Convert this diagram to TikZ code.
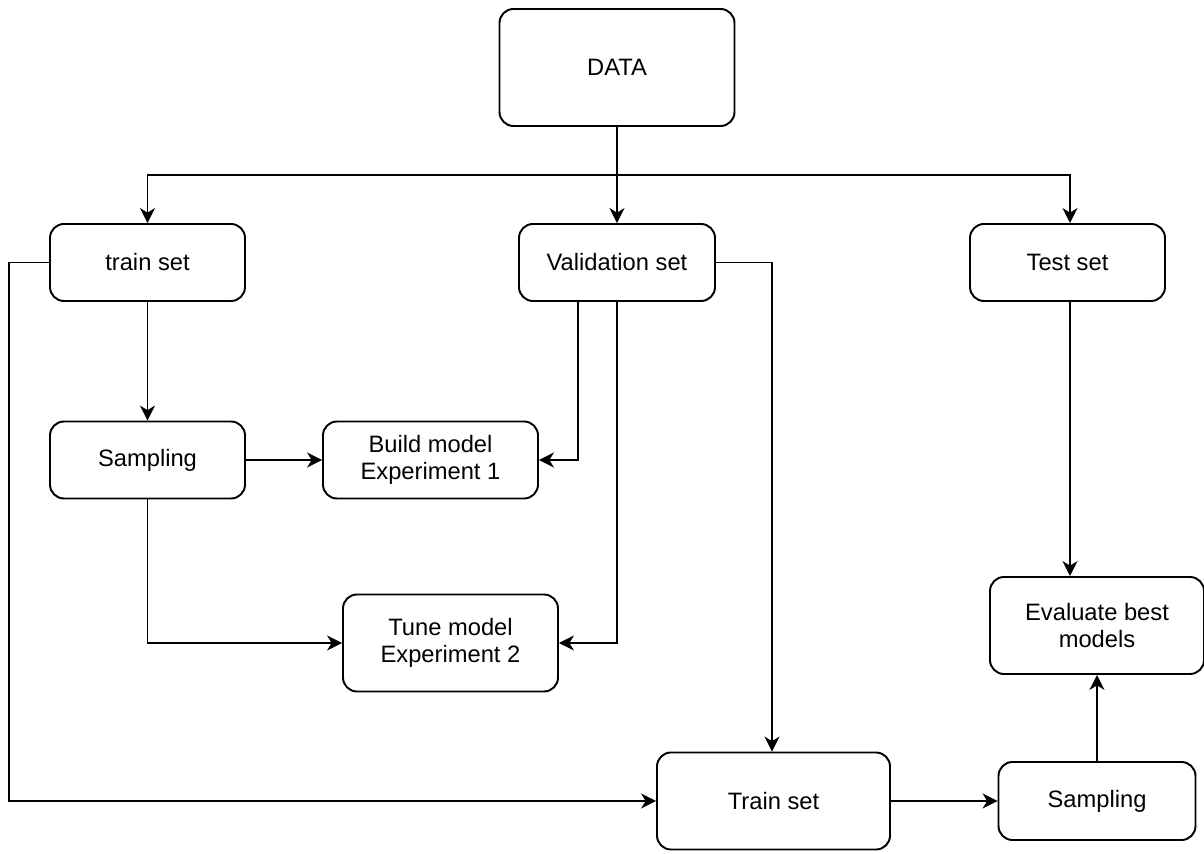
\documentclass[tikz,border=0pt]{standalone}
\usepackage{fontspec}
\setmainfont{Liberation Sans}
\usetikzlibrary{arrows.meta,positioning}
\usepackage{xcolor}
\definecolor{stroke}{HTML}{000000}

\begin{document}
\begin{tikzpicture}[
    box/.style={draw=stroke,line width=1.1pt,rounded corners=0.28cm,align=center,
      font=\fontsize{13.5}{15.5}\selectfont,inner sep=0pt},
    flow/.style={draw=stroke,line width=1.1pt,-{Stealth[length=8.5pt,width=8.5pt,inset=2.6pt]}}
  ]
  \useasboundingbox (0,0) rectangle (24.08,17.06);

  % Data and its three parts
  \node[box,minimum width=4.7cm,minimum height=2.34cm] (data) at (12.34,15.71) {DATA};
  \node[box,minimum width=3.9cm,minimum height=1.54cm] (trainset) at (2.95,11.81) {train set};
  \node[box,minimum width=3.92cm,minimum height=1.54cm] (valid) at (12.34,11.81) {Validation set};
  \node[box,minimum width=3.9cm,minimum height=1.54cm] (test) at (21.35,11.81) {Test set};

  % Experiments
  \node[box,minimum width=3.9cm,minimum height=1.54cm] (samplingA) at (2.95,7.86) {Sampling};
  \node[box,minimum width=4.3cm,minimum height=1.54cm] (build) at (8.61,7.86) {Build model\\Experiment 1};
  \node[box,minimum width=4.3cm,minimum height=1.94cm] (tune) at (9.01,4.2) {Tune model\\Experiment 2};

  % Final evaluation
  \node[box,minimum width=4.66cm,minimum height=1.94cm] (trainB) at (15.47,1.04) {Train set};
  \node[box,minimum width=3.94cm,minimum height=1.56cm] (samplingB) at (21.94,1.04) {Sampling};
  \node[box,minimum width=4.28cm,minimum height=1.94cm] (evaluate) at (21.94,4.55) {Evaluate best\\models};

  % Split lines
  \coordinate (split) at (12.34,13.56);
  \draw[flow] (data.south) -- (valid.north);
  \draw[flow] (data.south) -- (split) -| (trainset.north);
  \draw[flow] (data.south) -- (split) -| ([xshift=0.05cm]test.north);

  \draw[flow] (trainset.south) -- (samplingA.north);
  \draw[flow] (samplingA.east) -- (build.west);
  \draw[flow] ([xshift=-0.78cm]valid.south) |- (build.east);
  \draw[flow] (valid.south) |- (tune.east);
  \draw[flow] (samplingA.south) |- (tune.west);
  \draw[flow] (valid.east) -| ([xshift=-0.03cm]trainB.north);
  \draw[flow] (trainset.west) -- ++(-0.8,0) |- (trainB.west);

  \draw[flow] (trainB.east) -- (samplingB.west);
  \draw[flow] (samplingB.north) -- (evaluate.south);
  \draw[flow] ([xshift=0.05cm]test.south) -- ([xshift=0.05cm]test.south |- evaluate.north);
\end{tikzpicture}
\end{document}
